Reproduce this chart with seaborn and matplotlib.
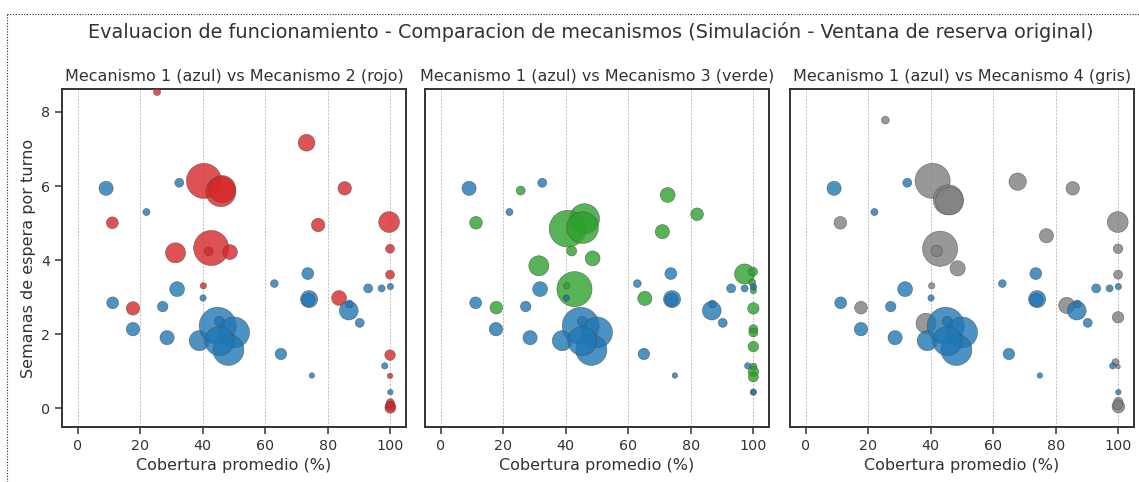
import numpy as np
import pandas as pd
import matplotlib
matplotlib.use("Agg")
import matplotlib.pyplot as plt
from matplotlib.lines import Line2D
import seaborn as sns

# ---- Datos: cobertura promedio (%), semanas de espera y casos por punto ----
m1_cobertura = [9.1, 32.5, 22.0, 11.2, 17.7, 27.2, 31.8, 28.6, 40.1, 38.9, 44.8, 50.0, 48.2,
                45.3, 45.3, 65.0, 62.9, 73.6, 74.0, 73.8, 74.9, 86.7, 86.9, 90.2, 92.9,
                97.2, 100.0, 98.2, 100.0]
m1_espera = [5.94, 6.09, 5.30, 2.85, 2.14, 2.75, 3.22, 1.91, 2.98, 1.83, 2.23, 2.05, 1.58,
             1.82, 2.35, 1.47, 3.37, 3.64, 2.95, 2.93, 0.89, 2.64, 2.82, 2.31, 3.24,
             3.24, 3.29, 1.15, 0.44]
m1_casos = [20, 8, 5, 14, 18, 11, 22, 20, 4, 40, 137, 96, 96, 84, 10, 13, 6, 14, 29, 17,
            3, 35, 6, 8, 8, 5, 4, 4, 3]

m2_cobertura = [25.4, 73.2, 40.4, 45.8, 46.2, 85.4, 11.1, 76.9, 99.6, 31.3, 42.7, 41.9,
                48.7, 99.9, 99.9, 40.2, 17.7, 83.6, 99.9, 99.9, 100.0, 100.0, 100.0, 99.8]
m2_espera = [8.54, 7.17, 6.14, 5.85, 5.92, 5.94, 5.01, 4.95, 5.03, 4.20, 4.33, 4.24,
             4.22, 4.31, 3.61, 3.31, 2.70, 2.98, 1.44, 0.88, 0.02, 0.07, 0.16, 0.10]
m2_casos = [5, 28, 123, 90, 73, 18, 14, 18, 43, 40, 123, 8, 22, 8, 8, 4, 18, 22, 11, 3,
            12, 10, 6, 5]

m3_cobertura = [25.6, 72.6, 82.0, 11.3, 46.0, 40.6, 45.4, 70.9, 41.9, 48.6, 31.4, 42.8,
                40.3, 40.3, 17.8, 65.3, 97.2, 99.9, 99.6, 100.0, 100.0, 100.0, 100.0,
                100.0, 100.0, 100.0, 100.0, 100.0, 100.0]
m3_espera = [5.88, 5.76, 5.24, 5.01, 5.12, 4.85, 4.88, 4.77, 4.25, 4.05, 3.85, 3.22,
             3.31, 2.98, 2.72, 2.97, 3.63, 3.69, 3.40, 3.26, 3.18, 2.70, 2.14, 2.05,
             1.67, 1.13, 1.00, 0.85, 0.44]
m3_casos = [8, 22, 16, 16, 90, 135, 100, 20, 10, 22, 40, 123, 4, 3, 16, 20, 40, 8, 5, 3,
            4, 13, 8, 8, 11, 5, 11, 10, 4]

m4_cobertura = [25.5, 40.6, 45.6, 46.0, 67.8, 85.4, 11.1, 99.8, 77.0, 43.0, 41.9, 48.6,
                99.9, 99.9, 40.3, 17.7, 83.5, 38.5, 99.9, 99.1, 99.9, 100.0, 100.0, 99.8]
m4_espera = [7.78, 6.14, 5.63, 5.60, 6.12, 5.94, 5.01, 5.03, 4.66, 4.31, 4.25, 3.78,
             4.31, 3.61, 3.31, 2.72, 2.78, 2.30, 2.46, 1.25, 1.13, 0.05, 0.18, 0.10]
m4_casos = [6, 123, 90, 78, 30, 18, 16, 43, 20, 123, 13, 23, 9, 8, 4, 16, 26, 40, 13, 5,
            2, 16, 8, 10]

titulos = ["Mecanismo 1 (azul) vs Mecanismo 2 (rojo)",
           "Mecanismo 1 (azul) vs Mecanismo 3 (verde)",
           "Mecanismo 1 (azul) vs Mecanismo 4 (gris)"]
xticks = [0, 20, 40, 60, 80, 100]
yticks = [0, 2, 4, 6, 8]

# ---- Estilo ----
sns.set_theme(style="ticks")
plt.rcParams["font.family"] = ["DejaVu Sans"]
plt.rcParams["text.color"] = "0.2"
plt.rcParams["axes.labelcolor"] = "0.2"
plt.rcParams["xtick.color"] = "0.2"
plt.rcParams["ytick.color"] = "0.2"

def tabla(cob, esp, casos):
    return pd.DataFrame({"cobertura": cob, "espera": esp, "casos": casos})

base = tabla(m1_cobertura, m1_espera, m1_casos)
otros = [(tabla(m2_cobertura, m2_espera, m2_casos), "#d62728"),
         (tabla(m3_cobertura, m3_espera, m3_casos), "#2ca02c"),
         (tabla(m4_cobertura, m4_espera, m4_casos), "#7f7f7f")]

K = 5.184  # area de marcador (pt^2) por caso
norm = (0, 150)
escala = (0, 150 * K)

fig, axes = plt.subplots(1, 3, figsize=(11.39, 4.82), dpi=100, sharey=True)
W, H = 1139, 482
lefts = [62, 425, 790]
for ax, l in zip(axes, lefts):
    ax.set_position([l / W, 1 - 427 / H, 344 / W, 338 / H])

for i, (ax, (df, color), titulo) in enumerate(zip(axes, otros, titulos)):
    sns.scatterplot(data=df, x="cobertura", y="espera", size="casos", sizes=escala,
                    size_norm=norm, color=color, alpha=0.8, edgecolor="0.3",
                    linewidth=0.4, legend=False, ax=ax, zorder=3)
    sns.scatterplot(data=base, x="cobertura", y="espera", size="casos", sizes=escala,
                    size_norm=norm, color="#1f77b4", alpha=0.8, edgecolor="0.3",
                    linewidth=0.4, legend=False, ax=ax, zorder=3)
    ax.set_xlim(-5, 105)
    ax.set_ylim(-0.5, 8.62)
    ax.set_xticks(xticks)
    ax.set_yticks(yticks)
    ax.grid(axis="x", linestyle=(0, (3, 2)), linewidth=0.5, color="0.65")
    ax.set_axisbelow(True)
    ax.set_title(titulo, fontsize=11.5, pad=6)
    ax.set_xlabel("Cobertura promedio (%)", fontsize=11.5)
    ax.tick_params(labelsize=10.3, length=5, width=1.1)
    for sp in ax.spines.values():
        sp.set_linewidth(1.4)
        sp.set_color("0.2")
    if i == 0:
        ax.set_ylabel("Semanas de espera por turno", fontsize=11.5)
    else:
        ax.set_ylabel("")
        ax.tick_params(axis="y", left=False, labelleft=False)

fig.suptitle("Evaluacion de funcionamiento - Comparacion de mecanismos "
             "(Simulación - Ventana de reserva original)",
             x=591 / W, y=1 - 32 / H, va="center", fontsize=13.9, color="0.2")

# Marco punteado del contenedor
borde = dict(color="0.15", linestyle=(0, (1, 1.5)), linewidth=0.8, transform=fig.transFigure)
fig.add_artist(Line2D([7 / W, 1.0], [1 - 14 / H, 1 - 14 / H], **borde))
fig.add_artist(Line2D([7 / W, 7 / W], [0.0, 1 - 14 / H], **borde))

fig.savefig("out.png", dpi=100)
